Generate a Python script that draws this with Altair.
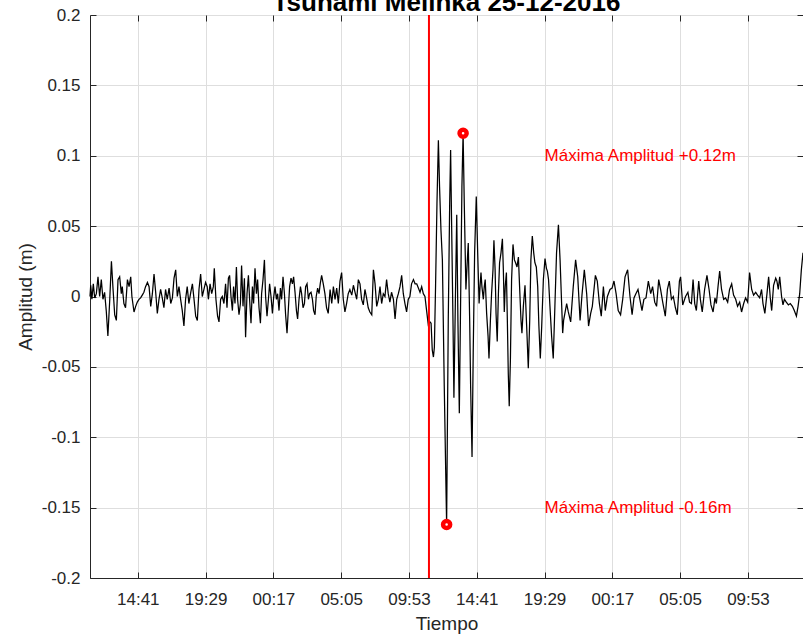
import altair as alt
import pandas as pd

# ---------------- data ----------------
START = "2016-12-24 11:18"
END = "2016-12-26 13:47"
EVENT = "2016-12-25 11:18"
TITLE = "Tsunami Melinka 25-12-2016"

# minutes after START, amplitude in millimetres
pre_min = [0, 3, 8, 14, 20, 27, 34, 41, 48, 55, 62, 69, 76, 84, 91, 98, 105, 112, 119, 126,
           133, 137, 144, 151, 159, 166, 173, 178, 187, 194, 201, 208, 215, 222, 229, 236, 244,
           251, 258, 265, 272, 279, 286, 293, 300, 307, 314, 321, 328, 336, 343, 350, 357, 364,
           371, 378, 385, 392, 399, 406, 413, 420, 428, 435, 442, 449, 456, 463, 470, 477, 484,
           491, 498, 503, 510, 517, 524, 528, 535, 542, 548, 555, 562, 569, 576, 582, 588, 593,
           599, 605, 610, 616, 622, 627, 633, 639, 644, 650, 656, 661, 667, 673, 678, 684, 690,
           695, 701, 707, 712, 718, 724, 729, 735, 741, 746, 752, 758, 763, 769, 775, 780, 786,
           792, 797, 803, 809, 814, 820, 826, 831, 837, 843, 848, 854, 860, 865, 871, 877, 882,
           888, 894, 899, 905, 911, 916, 922, 928, 933, 939, 945, 950, 956, 961, 967, 973, 978,
           984, 991, 998, 1005, 1012, 1020, 1027, 1034, 1041, 1048, 1055, 1062, 1069, 1076,
           1083, 1090, 1097, 1104, 1112, 1119, 1126, 1133, 1140, 1147, 1154, 1161, 1168, 1175,
           1182, 1189, 1197, 1204, 1211, 1218, 1225, 1232, 1239, 1246, 1253, 1260, 1267, 1274,
           1281, 1289, 1296, 1303, 1310, 1317, 1324, 1331, 1338, 1345, 1352, 1359, 1366, 1374,
           1381, 1388, 1395, 1402, 1409, 1416, 1423]
pre_mm = [0, 8, -2, 9, -1, 2, 14, 0, 12, -2, 3, -10, -28, -2, 25, 5, -13, -17, 12, 14,
          2, 7, -5, -8, 12, 7, 14, 0, -11, -7, -4, -2, -1, 1, 3, 7, 10,
          7, -7, 2, 16, 3, -12, -2, 5, -1, -8, 5, -2, 6, -5, -1, 13, 19,
          0, 7, -2, -10, -21, -2, 7, -5, 3, 9, -2, -14, -17, 5, 16, 0, 5,
          10, 7, -2, 9, 2, 7, 20, -2, -14, -18, -2, 0, -5, 9, -8, 13, 15,
          0, -10, 7, -5, 21, -2, -13, -5, 22, -7, 13, -29, 2, 15, -2, -19, 7,
          -5, 20, 2, 12, -8, -19, 2, 12, 26, 0, -14, -2, 9, 0, -12, -1, 7,
          -2, 2, -10, 6, -2, 14, 2, -13, -26, -8, 7, 13, 9, 14, 3, -10, -16,
          -2, 7, 2, -8, -5, 7, 9, -2, 2, 3, -2, -10, -13, 0, 6, 2, 9,
          15, 9, 2, -8, -12, 5, -5, 7, -2, 6, -5, 11, 17, -2,
          -11, -5, 2, 5, 1, 8, 3, -2, 12, 9, -2, -6, 5, -1,
          -8, -11, -13, 19, 9, -7, -2, 7, -5, 2, 0, 12, 2, -4,
          3, -2, -16, -2, 2, 7, 15, 2, -5, -11, -2, 0, 9, 12,
          9, 9, 6, 3, 7, 2, 0]

event_min = [1430, 1437, 1444, 1449, 1454, 1459, 1463, 1468, 1474, 1480, 1485, 1491, 1497,
             1505, 1515, 1522, 1528, 1532, 1536, 1542, 1546, 1552, 1558, 1563, 1569, 1576,
             1580, 1585, 1590, 1597, 1603, 1607, 1613, 1617, 1623, 1628, 1634, 1641, 1647,
             1653, 1657, 1661, 1665, 1671, 1675, 1679, 1685, 1691, 1695, 1701, 1706, 1712,
             1716, 1721, 1725, 1730, 1735, 1740, 1746, 1752, 1756, 1760, 1764, 1769, 1773,
             1777, 1781, 1786, 1791, 1797, 1803, 1808, 1814, 1820, 1825, 1831, 1835, 1841,
             1848, 1855, 1862, 1868, 1873, 1879, 1885, 1890, 1896, 1902, 1907, 1913, 1919,
             1926, 1933, 1939, 1943, 1948, 1954, 1961, 1968, 1975, 1982, 1990, 1997, 2004,
             2008, 2012]
event_mm = [-10, -20, -18, -19, -38, -43, -36, 7, 66, 111, 78, 47, 26,
            -64, -162, -17, 66, 104, 54, -17, -72, -5, 58, -17, -83, 19,
            78, 116, 66, 5, 26, 38, -17, -64, -114, -40, 31, 71, 31,
            -5, 7, 17, 7, -2, 7, 12, -12, -28, -44, -17, 2, 19,
            40, 19, -12, -32, 2, 24, 31, 41, 19, -11, 7, 17, -17,
            -55, -78, -45, 12, 37, 26, 24, 21, 28, 7, -17, -26, -7,
            8, -21, -51, -17, 26, 43, 31, 24, 21, 7, -21, -44, -21,
            12, 27, 20, 18, 12, -7, -28, -44, -7, 31, 51, 26, -7,
            -26, -17]

post_min = [2025, 2032, 2042, 2053, 2063, 2072, 2082, 2090, 2100, 2110, 2118, 2127, 2134,
            2147, 2155, 2164, 2172, 2181, 2189, 2198, 2209, 2218, 2226, 2235, 2244, 2254,
            2263, 2273, 2284, 2294, 2303, 2311, 2319, 2328, 2336, 2345, 2353, 2362, 2372,
            2382, 2390, 2399, 2407, 2416, 2424, 2433, 2444, 2453, 2461, 2470, 2478, 2487,
            2495, 2504, 2509, 2518, 2530, 2540, 2547, 2555, 2562, 2569, 2576, 2586, 2593,
            2601, 2611, 2621, 2630, 2638, 2647, 2655, 2661, 2668, 2675, 2683, 2692, 2700,
            2709, 2717, 2726, 2734, 2743, 2751, 2760, 2768, 2777, 2785, 2794, 2802, 2811,
            2819, 2828, 2836, 2845, 2853, 2859, 2867, 2876, 2883, 2890, 2896, 2904, 2913,
            2918, 2924, 2930, 2938, 2944, 2950, 2958, 2967, 2975, 2984, 2992, 3001, 3008,
            3015, 3022, 3029]
post_mm = [-5, -11, -18, 7, 26, 14, -17, 1, 19, 2, -21, -12, -7,
           15, 11, -5, -14, 7, -10, 0, 5, 6, 11, 2, -10, -13,
           -2, 14, 19, 0, -13, -1, 2, 5, -2, -10, -2, -1, 11,
           2, 7, -4, -7, 12, 5, -4, -14, 5, 11, -2, 0, -8,
           -13, 11, 14, -6, 0, 3, -4, -5, 12, -5, -10, 11, -2,
           -11, 5, 15, 5, -6, -11, -1, -5, 7, 18, 5, -2, -1,
           -4, 5, 9, 1, -2, -7, -4, -11, -5, -1, -4, 17, 5,
           1, 3, 1, -1, 5, -5, -12, 2, 14, -1, -10, 8, 13,
           11, 5, 14, 0, -6, -2, -4, -6, -5, -7, -10, -14, -7,
           2, 19, 31]

x_tick_times = ["2016-12-24 14:41", "2016-12-24 19:29", "2016-12-25 00:17",
                "2016-12-25 05:05", "2016-12-25 09:53", "2016-12-25 14:41",
                "2016-12-25 19:29", "2016-12-26 00:17", "2016-12-26 05:05",
                "2016-12-26 09:53"]
y_ticks = [-0.2, -0.15, -0.1, -0.05, 0, 0.05, 0.1, 0.15, 0.2]

label_time = "2016-12-25 19:29"
label_max = "Máxima Amplitud +0.12m"
label_min = "Máxima Amplitud -0.16m"
label_max_y = 0.10
label_min_y = -0.15

# ---------------- build tables ----------------
def iso(ts):
    return ts.strftime("%Y-%m-%dT%H:%M:%S")

def dt(s):
    ts = pd.Timestamp(s)
    return alt.DateTime(year=ts.year, month=ts.month, date=ts.day,
                        hours=ts.hour, minutes=ts.minute)

minutes = pre_min + event_min + post_min
amp_mm = pre_mm + event_mm + post_mm
start_ts = pd.Timestamp(START)
series = pd.DataFrame({
    "t": [iso(start_ts + pd.Timedelta(minutes=m)) for m in minutes],
    "amp": [v / 1000.0 for v in amp_mm],
})

i_max = series["amp"].idxmax()
i_min = series["amp"].idxmin()
extremes = series.loc[[i_max, i_min]].reset_index(drop=True)

labels = pd.DataFrame({
    "t": [iso(pd.Timestamp(label_time))] * 2,
    "amp": [label_max_y, label_min_y],
    "txt": [label_max, label_min],
})
event = pd.DataFrame({"t": [iso(pd.Timestamp(EVENT))]})

INK = "#262626"
FONT = "Liberation Sans"
x_scale = alt.Scale(domain=[dt(START), dt(END)], nice=False)
y_scale = alt.Scale(domain=[-0.2, 0.2], nice=False)
x_vals = [dt(s) for s in x_tick_times]
inward = {"expr": "-6"}

line = alt.Chart(series).mark_line(color="black", strokeWidth=1.25).encode(
    x=alt.X("t:T", scale=x_scale, axis=alt.Axis(
        values=x_vals, format="%H:%M", title="Tiempo", orient="bottom",
        grid=True, gridColor="#dedede", gridWidth=1,
        domain=True, domainColor=INK, domainWidth=1,
        ticks=True, tickSize=inward, tickColor=INK, tickWidth=1,
        labelFont=FONT, labelFontSize=17, labelColor=INK, labelPadding=19,
        labelFlush=False, labelOverlap=False,
        titleFont=FONT, titleFontSize=19, titleFontWeight="normal", titleColor=INK,
        titleX=356.5, titleY=51.5, titleBaseline="alphabetic", titleAlign="center")),
    y=alt.Y("amp:Q", scale=y_scale, axis=alt.Axis(
        values=y_ticks, labelExpr="'' + datum.value", title="Amplitud (m)", orient="left",
        grid=True, gridColor="#dedede", gridWidth=1,
        domain=True, domainColor=INK, domainWidth=1,
        ticks=True, tickSize=inward, tickColor=INK, tickWidth=1,
        labelFont=FONT, labelFontSize=17, labelColor=INK, labelPadding=16,
        labelFlush=False, labelOverlap=False,
        titleFont=FONT, titleFontSize=19, titleFontWeight="normal", titleColor=INK,
        titleAngle=270, titleX=-59, titleY=281.5, titleBaseline="alphabetic",
        titleAlign="center")),
)

rule = alt.Chart(event).mark_rule(color="#ff0000", strokeWidth=2).encode(
    x=alt.X("t:T", scale=x_scale, axis=alt.Axis(
        values=x_vals, orient="top", labels=False, domain=False, grid=False,
        ticks=True, tickSize=inward, tickColor=INK, tickWidth=1, title=None)),
)

points = alt.Chart(extremes).mark_point(
    shape="circle", filled=False, fill="white", color="#ff0000",
    stroke="#ff0000", strokeWidth=4.5, size=50, opacity=1).encode(
    x=alt.X("t:T", scale=x_scale, axis=None),
    y=alt.Y("amp:Q", scale=y_scale, axis=alt.Axis(
        values=y_ticks, orient="right", labels=False, domain=False, grid=False,
        ticks=True, tickSize=inward, tickColor=INK, tickWidth=1, title=None)),
)

texts = alt.Chart(labels).mark_text(
    align="left", baseline="middle", color="#ff0000", font=FONT, fontSize=17).encode(
    x=alt.X("t:T", scale=x_scale, axis=None),
    y=alt.Y("amp:Q", scale=y_scale, axis=None),
    text="txt:N",
)

chart = alt.layer(line, rule, points, texts).resolve_axis(
    x="independent", y="independent"
).properties(
    width=713, height=563,
    title=alt.TitleParams(TITLE, fontSize=26, fontWeight="bold", font=FONT,
                          color="#000000", anchor="middle", frame="group",
                          baseline="alphabetic", offset=0, dy=31),
    autosize=alt.AutoSizeParams(type="none"),
    padding={"left": 90, "top": 15, "right": 0, "bottom": 60},
).configure_view(stroke=INK, strokeWidth=1).configure(background="white")

chart.save("out.html", embed_options={"renderer": "svg", "actions": False})
